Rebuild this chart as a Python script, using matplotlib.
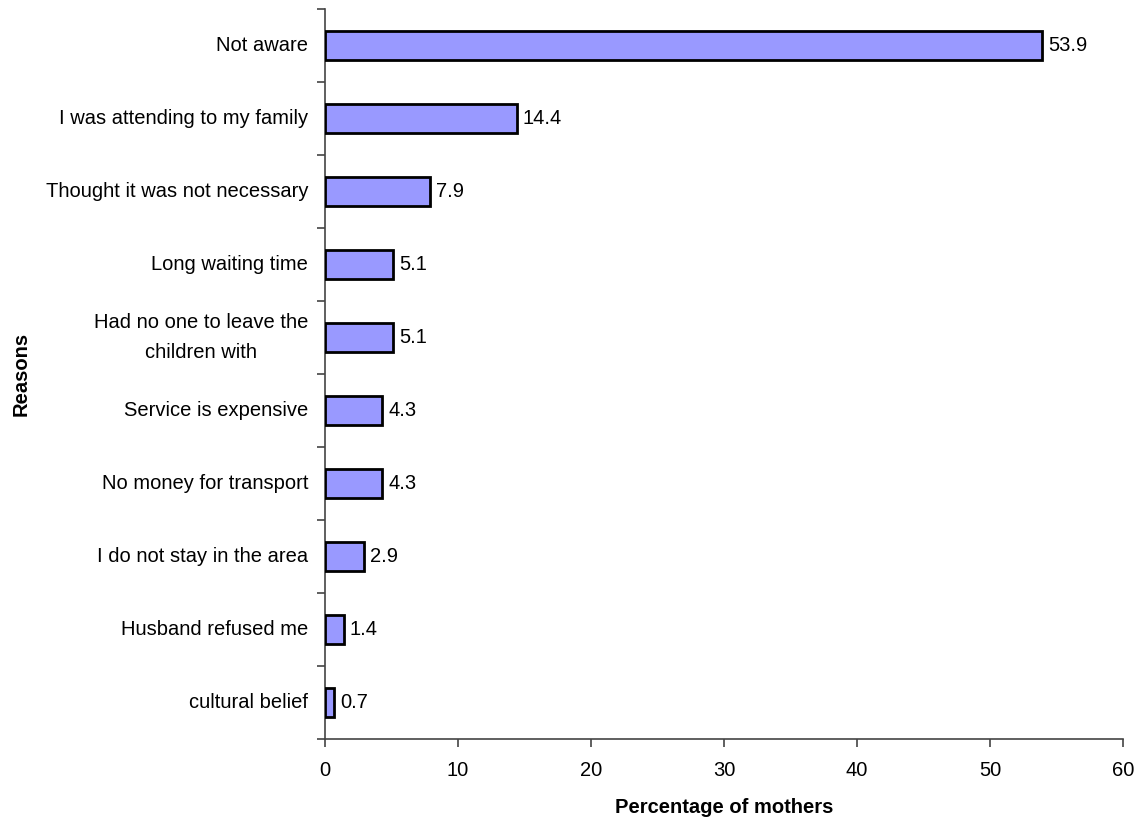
import matplotlib
matplotlib.use("Agg")
import matplotlib.pyplot as plt
import numpy as np

categories = ["Not aware", "I was attending to my family", "Thought it was not necessary",
              "Long waiting time", "Had no one to leave the\nchildren with", "Service is expensive",
              "No money for transport", "I do not stay in the area", "Husband refused me",
              "cultural belief"]
values = [53.9, 14.4, 7.9, 5.1, 5.1, 4.3, 4.3, 2.9, 1.4, 0.7]
xticks = [0, 10, 20, 30, 40, 50, 60]

plt.rcParams['font.family'] = ['Liberation Sans', 'DejaVu Sans']

fig = plt.figure(figsize=(11.44, 8.18), dpi=100)
ax = fig.add_axes([325/1144, (818-739)/818, (1123-325)/1144, (739-9)/818])

n = len(categories)
y = np.arange(n)
ax.barh(y, values, height=0.41, color='#9999FF', edgecolor='black', linewidth=2.0, zorder=3)
for yi, v in zip(y, values):
    ax.text(v + 0.45, yi, f"{v}", va='center', ha='left', fontsize=14.5)

ax.set_ylim(n - 0.5, -0.5)
ax.set_xlim(0, 60)
ax.set_xticks(xticks)
ax.set_xticklabels([str(t) for t in xticks], fontsize=14.5)
ax.set_yticks(y)
ax.set_yticklabels(categories, fontsize=14.5, multialignment='center', linespacing=1.75, va='center')
ax.tick_params(axis='y', length=0, pad=12)
ax.set_yticks(np.arange(-0.5, n, 1.0), minor=True)
ax.tick_params(axis='y', which='minor', length=6, width=1.2, color='#444444')
ax.tick_params(axis='x', length=6, width=1.2, color='#444444', pad=10)

for s in ['top', 'right']:
    ax.spines[s].set_visible(False)
for s in ['left', 'bottom']:
    ax.spines[s].set_color('#444444')
    ax.spines[s].set_linewidth(1.2)

ax.set_xlabel("Percentage of mothers", fontsize=14.5, fontweight='bold', labelpad=13)
ax.set_ylabel("Reasons", fontsize=14.5, fontweight='bold', labelpad=11)

fig.savefig("out.png", dpi=100)
